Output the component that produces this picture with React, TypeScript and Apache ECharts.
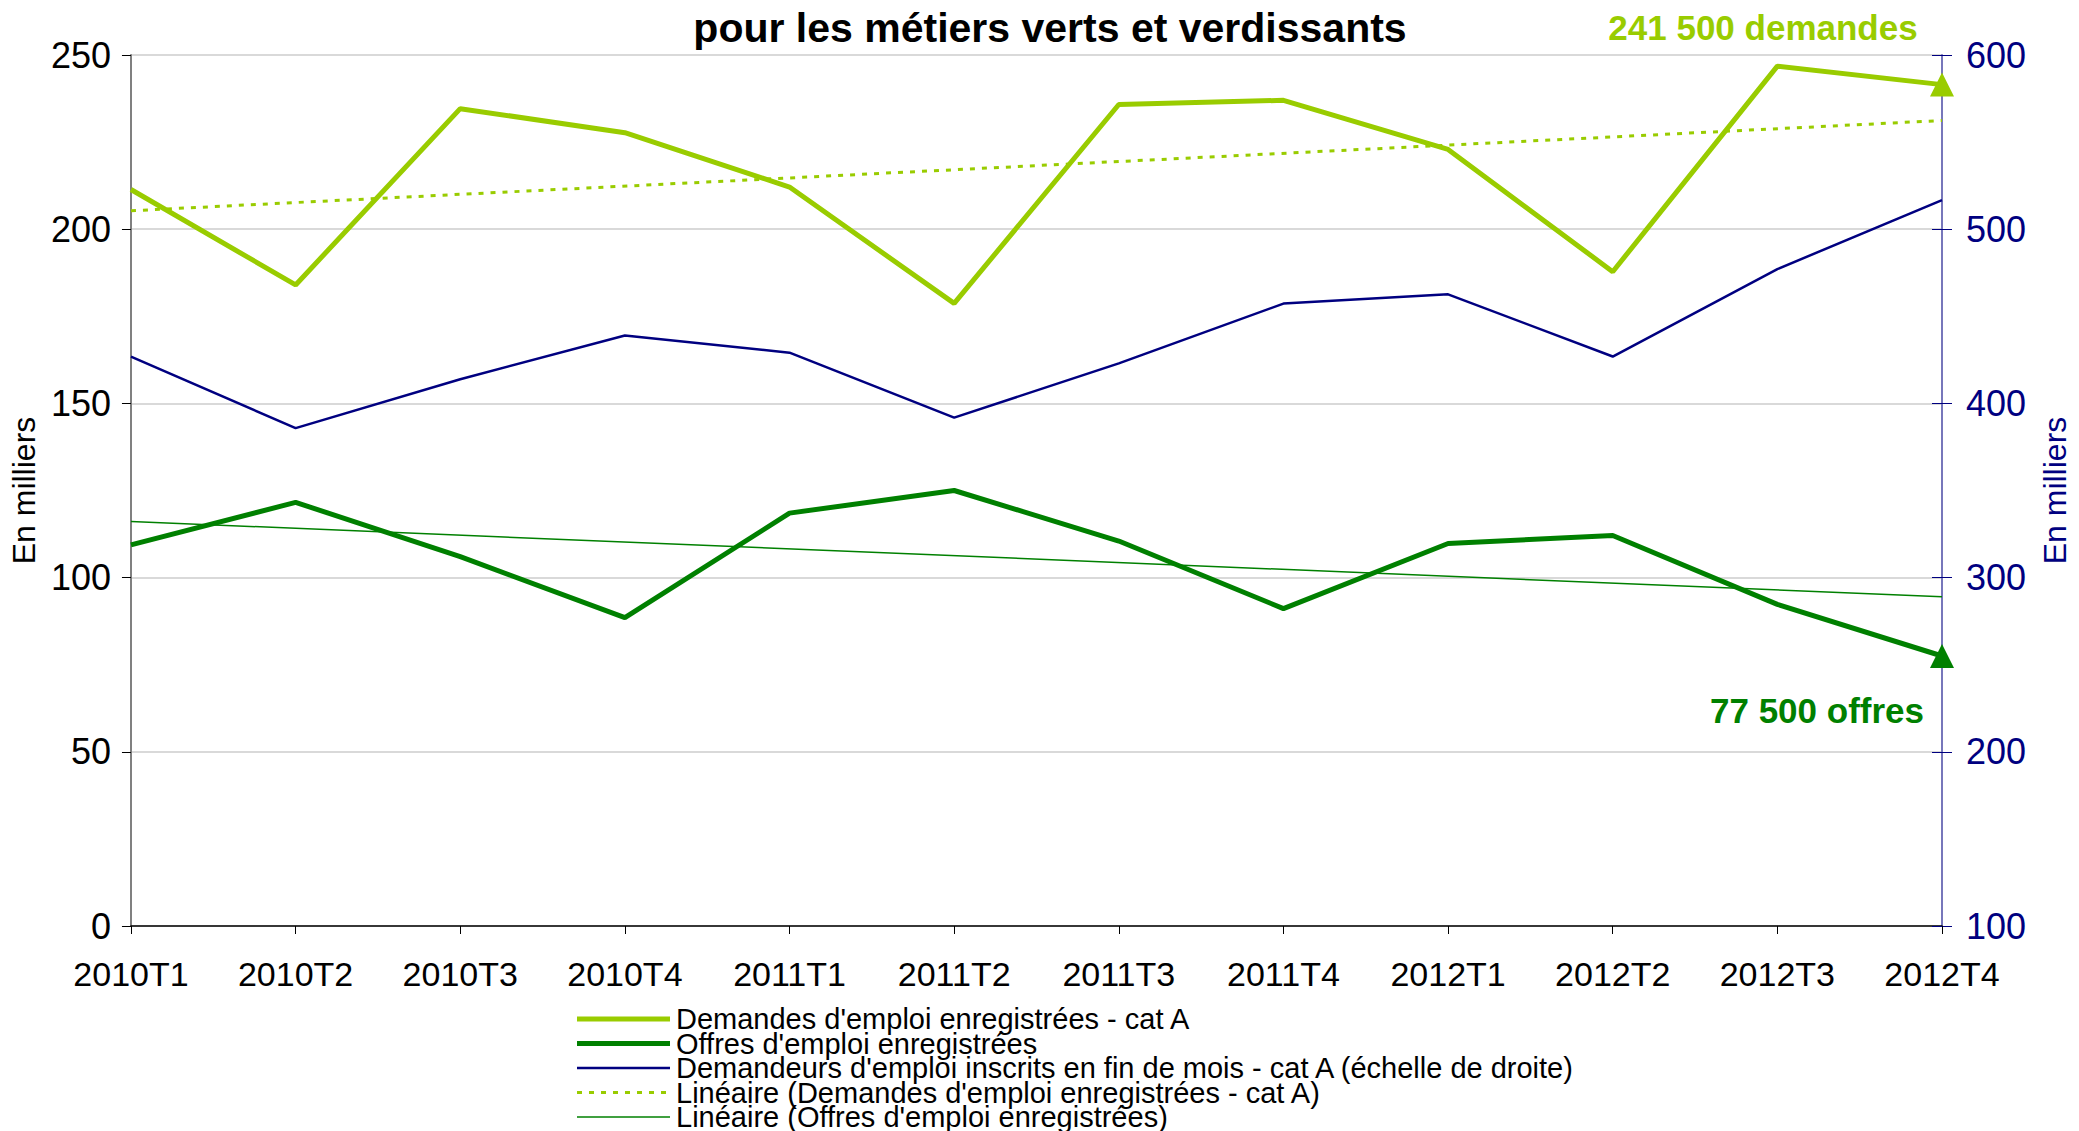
import React, { useEffect, useRef } from "react";
import * as echarts from "echarts";

const categories = ["2010T1", "2010T2", "2010T3", "2010T4", "2011T1", "2011T2", "2011T3", "2011T4", "2012T1", "2012T2", "2012T3", "2012T4"];
const demandes = [211.4, 184, 234.6, 227.7, 212.1, 178.7, 235.8, 237, 222.9, 187.8, 246.8, 241.5];
const offres = [109.4, 121.6, 106, 88.5, 118.5, 125, 110.5, 91.1, 109.8, 112.1, 92.3, 77.5];
const demandeurs = [426.9, 385.8, 413.9, 439, 429.1, 391.8, 423, 457.3, 462.6, 426.9, 477.1, 516.7];
const trendDemandes = [205.3, 231.2];
const trendOffres = [116.1, 94.5];
const leftTicks = { min: 0, max: 250, interval: 50 };
const rightTicks = { min: 100, max: 600, interval: 100 };

const seriesNames = [
  "Demandes d'emploi enregistrées - cat A",
  "Offres d'emploi enregistrées",
  "Demandeurs d'emploi inscrits en fin de mois - cat A (échelle de droite)",
  "Linéaire (Demandes d'emploi enregistrées - cat A)",
  "Linéaire (Offres d'emploi enregistrées)",
];
const titleText = "pour les métiers verts et verdissants";
const axisName = "En milliers";

const LIGHT = "#99CC00";
const DARK = "#008000";
const NAVY = "#000080";
const FONT = "Liberation Sans, Arial, sans-serif";

const fmt = (v: number) => Math.round(v * 1000).toString().replace(/\B(?=(\d{3})+(?!\d))/g, " ");

const legendStyles = [
  { stroke: LIGHT, lineWidth: 5, lineDash: null as number[] | null },
  { stroke: DARK, lineWidth: 5, lineDash: null },
  { stroke: NAVY, lineWidth: 2.5, lineDash: null },
  { stroke: LIGHT, lineWidth: 3, lineDash: [5, 7] },
  { stroke: DARK, lineWidth: 1.5, lineDash: null },
];

export default function App() {
  const ref = useRef<HTMLDivElement>(null);
  useEffect(() => {
    if (!ref.current) return;
    const chart = echarts.init(ref.current, null, { renderer: "svg" });
    const last = categories.length - 1;
    const legendX = 577;
    const legendY0 = 1019;
    const legendStep = 24.5;
    const legendGraphics: any[] = [];
    seriesNames.forEach((name, i) => {
      const st = legendStyles[i];
      const y = legendY0 + i * legendStep;
      legendGraphics.push({
        type: "line",
        shape: { x1: legendX, y1: y, x2: legendX + 93, y2: y },
        style: { stroke: st.stroke, lineWidth: st.lineWidth, lineDash: st.lineDash || undefined },
      });
      legendGraphics.push({
        type: "text",
        x: legendX + 99,
        y: y,
        style: { text: name, fill: "#000", fontFamily: FONT, fontSize: 29, lineHeight: 24, verticalAlign: "middle", align: "left" },
      });
    });

    chart.setOption({
      animation: false,
      backgroundColor: "#ffffff",
      title: {
        text: titleText,
        left: 1045,
        top: 2,
        textAlign: "center",
        textStyle: { fontFamily: FONT, fontSize: 41, fontWeight: "bold", color: "#000" },
      },
      grid: { left: 130, right: 127, top: 55, bottom: 205, containLabel: false },
      xAxis: {
        type: "category",
        data: categories,
        boundaryGap: false,
        axisLine: { lineStyle: { color: "#000", width: 1.5 } },
        axisTick: { show: true, length: 8, lineStyle: { color: "#000" }, alignWithLabel: true },
        axisLabel: { fontFamily: FONT, fontSize: 34, color: "#000", margin: 31 },
        splitLine: { show: false },
      },
      yAxis: [
        {
          type: "value",
          ...leftTicks,
          name: axisName,
          nameLocation: "middle",
          nameGap: 88,
          nameRotate: 90,
          nameTextStyle: { fontFamily: FONT, fontSize: 32, color: "#000" },
          axisLine: { show: true, lineStyle: { color: "#808080", width: 2 } },
          axisTick: { show: true, length: 9, lineStyle: { color: "#000" } },
          axisLabel: { fontFamily: FONT, fontSize: 36, color: "#000", margin: 20 },
          splitLine: { show: true, lineStyle: { color: "#CCCCCC", width: 1.5 } },
        },
        {
          type: "value",
          ...rightTicks,
          name: axisName,
          nameLocation: "middle",
          nameGap: 97,
          nameRotate: 90,
          nameTextStyle: { fontFamily: FONT, fontSize: 32, color: NAVY },
          axisLine: { show: true, lineStyle: { color: "#7777BB", width: 2 } },
          axisTick: { show: true, length: 10, lineStyle: { color: NAVY } },
          axisLabel: { fontFamily: FONT, fontSize: 36, color: NAVY, margin: 24 },
          splitLine: { show: false },
        },
        {
          type: "value",
          ...rightTicks,
          position: "right",
          axisLine: { show: false },
          axisTick: { show: true, inside: true, length: 10, lineStyle: { color: NAVY } },
          axisLabel: { show: false },
          splitLine: { show: false },
        },
      ],
      series: [
        {
          name: seriesNames[3],
          type: "line",
          yAxisIndex: 0,
          data: [[categories[0], trendDemandes[0]], [categories[last], trendDemandes[1]]],
          symbol: "none",
          lineStyle: { color: LIGHT, width: 3, type: [5, 7] },
          z: 2,
        },
        {
          name: seriesNames[4],
          type: "line",
          yAxisIndex: 0,
          data: [[categories[0], trendOffres[0]], [categories[last], trendOffres[1]]],
          symbol: "none",
          lineStyle: { color: DARK, width: 1.5 },
          z: 2,
        },
        {
          name: seriesNames[2],
          type: "line",
          yAxisIndex: 1,
          data: demandeurs,
          symbol: "none",
          lineStyle: { color: NAVY, width: 2.5 },
          z: 3,
        },
        {
          name: seriesNames[0],
          type: "line",
          yAxisIndex: 0,
          data: demandes,
          symbol: "none",
          lineStyle: { color: LIGHT, width: 5 },
          z: 4,
        },
        {
          name: seriesNames[1],
          type: "line",
          yAxisIndex: 0,
          data: offres,
          symbol: "none",
          lineStyle: { color: DARK, width: 5 },
          z: 4,
        },
        {
          type: "scatter",
          yAxisIndex: 0,
          symbol: "triangle",
          symbolSize: 24,
          z: 6,
          itemStyle: { opacity: 1 },
          data: [
            {
              value: [categories[last], demandes[last]],
              itemStyle: { color: LIGHT, opacity: 1 },
              label: {
                show: true,
                position: "inside",
                offset: [-179, -57],
                formatter: `${fmt(demandes[last])} demandes`,
                fontFamily: FONT,
                fontSize: 35,
                fontWeight: "bold",
                color: LIGHT,
                opacity: 1,
              },
            },
            {
              value: [categories[last], offres[last]],
              itemStyle: { color: DARK, opacity: 1 },
              label: {
                show: true,
                position: "inside",
                offset: [-125, 55],
                formatter: `${fmt(offres[last])} offres`,
                fontFamily: FONT,
                fontSize: 35,
                fontWeight: "bold",
                color: DARK,
                opacity: 1,
              },
            },
          ],
        },
      ],
      graphic: legendGraphics,
    });
    return () => chart.dispose();
  }, []);
  return <div ref={ref} style={{ position: "fixed", left: 0, top: 0, width: 2079, height: 1131 }} />;
}
